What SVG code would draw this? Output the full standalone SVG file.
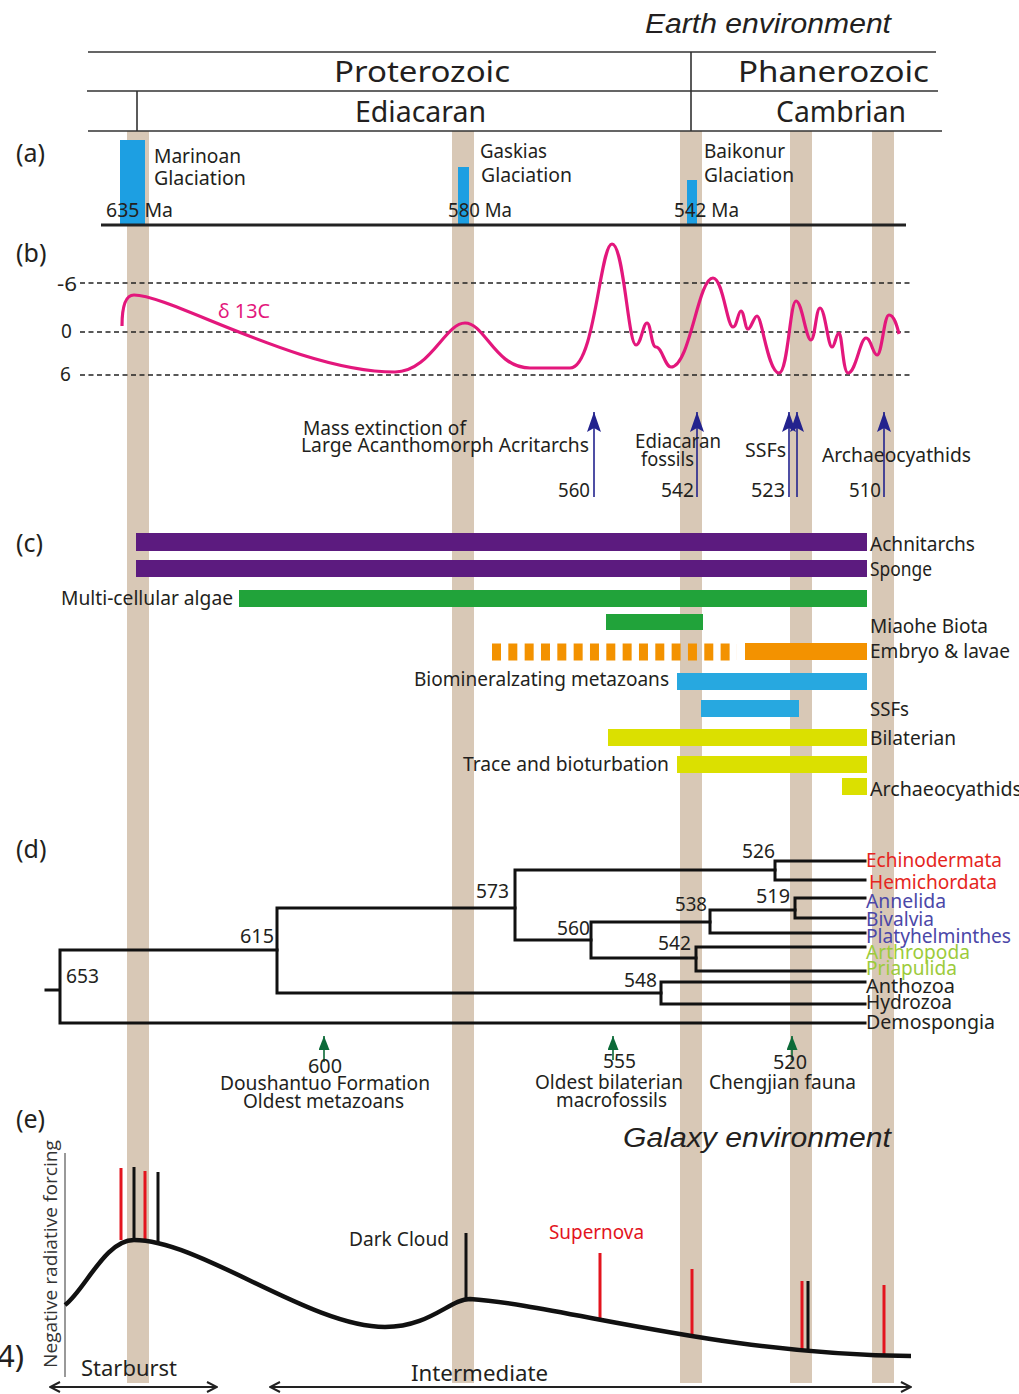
<svg xmlns="http://www.w3.org/2000/svg" width="1019" height="1394" viewBox="0 0 1019 1394">
<defs>
<style>
.t{font-family:"Noto Sans","Open Sans",sans-serif;font-size:19px;fill:#231f20}
.n{font-size:20px}
.hd{font-size:29px}
.lb{font-size:25px}
.it{font-family:"Liberation Sans",Arial,sans-serif;font-style:italic;font-size:27px;fill:#231f20}
.band{fill:#d8c8b6}
.hl{stroke:#333;stroke-width:1.6;fill:none}
.dash{stroke:#222;stroke-width:1.6;stroke-dasharray:5 3.5;fill:none}
.glac{fill:#1d9fe2}
.br{stroke:#111;stroke-width:3;fill:none;stroke-linecap:square}
.ba{stroke:#23238e;stroke-width:1.6;fill:none;marker-end:url(#ahB)}
.ga{stroke:#0c6a38;stroke-width:1.6;fill:none;marker-end:url(#ahG)}
.red{fill:#e52521}
.blu{fill:#4b47a8}
.grn{fill:#9ccb3b}
.sr{stroke:#e3141e;stroke-width:3;fill:none}
.sk{stroke:#111;stroke-width:3;fill:none}
.dbl{stroke:#222;stroke-width:2;fill:none;marker-start:url(#ahO);marker-end:url(#ahO)}
</style>
<marker id="ahB" viewBox="0 0 20 14" refX="20" refY="7" markerWidth="20" markerHeight="14" markerUnits="userSpaceOnUse" orient="auto"><path d="M0,0 L20,7 L0,14 L4,7 z" fill="#23238e"/></marker>
<marker id="ahG" viewBox="0 0 14 11" refX="14" refY="5.5" markerWidth="14" markerHeight="11" markerUnits="userSpaceOnUse" orient="auto"><path d="M0,0 L14,5.5 L0,11 z" fill="#0c6a38"/></marker>
<marker id="ahO" viewBox="0 0 12 12" refX="11" refY="6" markerWidth="12" markerHeight="12" markerUnits="userSpaceOnUse" orient="auto-start-reverse"><path d="M1,1 L11,6 L1,11" fill="none" stroke="#222" stroke-width="2"/></marker>
</defs>
<rect width="1019" height="1394" fill="#fff"/>

<g id="bands">
<rect class="band" x="127" y="131" width="22" height="1252"/>
<rect class="band" x="452" y="131" width="22" height="1252"/>
<rect class="band" x="680" y="131" width="22" height="1252"/>
<rect class="band" x="790" y="131" width="22" height="1252"/>
<rect class="band" x="872" y="131" width="22" height="1252"/>
</g>

<g id="header">
<text class="it" x="645" y="33" textLength="246" lengthAdjust="spacingAndGlyphs">Earth environment</text>
<path class="hl" d="M88,52 H936 M87,91 H938 M88,131 H942 M691,52 V131 M137,91 V131"/>
<text class="t hd" x="334" y="82" textLength="176" lengthAdjust="spacingAndGlyphs">Proterozoic</text>
<text class="t hd" x="738" y="82" textLength="191" lengthAdjust="spacingAndGlyphs">Phanerozoic</text>
<text class="t hd" x="355" y="122" textLength="131" lengthAdjust="spacingAndGlyphs">Ediacaran</text>
<text class="t hd" x="776" y="122" textLength="130" lengthAdjust="spacingAndGlyphs">Cambrian</text>
</g>

<g id="panel-a">
<text class="t lb" x="16" y="162">(a)</text>
<rect class="glac" x="120" y="140" width="25" height="85"/>
<rect class="glac" x="458" y="167" width="11" height="58"/>
<rect class="glac" x="687" y="180" width="10" height="45"/>
<g id="marinoan"><text class="t" x="154" y="163" textLength="87" lengthAdjust="spacingAndGlyphs">Marinoan</text><text class="t" x="154" y="185" textLength="92" lengthAdjust="spacingAndGlyphs">Glaciation</text><text class="t" x="106" y="217" textLength="67" lengthAdjust="spacingAndGlyphs">635 Ma</text></g>
<g id="gaskias"><text class="t" x="480" y="158" textLength="67" lengthAdjust="spacingAndGlyphs">Gaskias</text><text class="t" x="481" y="182" textLength="91" lengthAdjust="spacingAndGlyphs">Glaciation</text><text class="t" x="448" y="217" textLength="64" lengthAdjust="spacingAndGlyphs">580 Ma</text></g>
<g id="baikonur"><text class="t" x="704" y="158" textLength="81" lengthAdjust="spacingAndGlyphs">Baikonur</text><text class="t" x="704" y="182" textLength="90" lengthAdjust="spacingAndGlyphs">Glaciation</text><text class="t" x="674" y="217" textLength="65" lengthAdjust="spacingAndGlyphs">542 Ma</text></g>
<path d="M101,225 H906" stroke="#222" stroke-width="3"/>
</g>

<g id="panel-b">
<text class="t lb" x="16" y="262">(b)</text>
<path class="dash" d="M80,283 H912 M80,332 H912 M80,375 H912"/>
<text class="t" x="57" y="291" textLength="20" lengthAdjust="spacingAndGlyphs">-6</text>
<text class="t" x="61" y="338">0</text>
<text class="t" x="60" y="381">6</text>
<path d="M122,326 C122,305 126,295 134,295 C170,295 300,372 395,372 C430,372 445,323 465,323 C485,323 495,368 530,368 L570,368 C595,368 600,244 612,244 C624,244 628,345 636,345 C641,345 643,323 647,323 C651,323 651,347 656,347 C662,347 665,367 671,367 C690,367 698,278 713,278 C723,278 727,327 733,327 C737,327 738,311 741,311 C744,311 745,329 748,329 C751,329 754,316 757,316 C762,316 768,373 779,373 C788,373 790,301 796,301 C802,301 806,340 811,340 C815,340 816,308 820,308 C825,308 828,347 832,347 C835,347 836,333 839,333 C842,333 843,373 848,373 C856,373 860,338 866,338 C871,338 873,355 877,355 C882,355 884,315 889,315 C894,315 897,326 899,334" fill="none" stroke="#e3177c" stroke-width="3.2" stroke-linejoin="round"/>
<text class="t" x="218" y="318" fill="#e3177c" style="fill:#e3177c" textLength="52" lengthAdjust="spacingAndGlyphs">δ 13C</text>
</g>

<g id="events">
<path class="ba" d="M594,497 V412"/>
<path class="ba" d="M697,497 V412"/>
<path class="ba" d="M789,497 V412"/>
<path class="ba" d="M797,497 V412"/>
<path class="ba" d="M884,497 V412"/>
<g id="ev-560"><text class="t" x="303" y="435" textLength="163" lengthAdjust="spacingAndGlyphs">Mass extinction of</text><text class="t" x="301" y="452" textLength="288" lengthAdjust="spacingAndGlyphs">Large Acanthomorph Acritarchs</text><text class="t n" x="558" y="497" textLength="32" lengthAdjust="spacingAndGlyphs">560</text></g>
<g id="ev-542"><text class="t" x="635" y="448" textLength="86" lengthAdjust="spacingAndGlyphs">Ediacaran</text><text class="t" x="641" y="466" textLength="53" lengthAdjust="spacingAndGlyphs">fossils</text><text class="t n" x="661" y="497" textLength="33" lengthAdjust="spacingAndGlyphs">542</text></g>
<g id="ev-523"><text class="t" x="745" y="457" textLength="41" lengthAdjust="spacingAndGlyphs">SSFs</text><text class="t n" x="751" y="497" textLength="34" lengthAdjust="spacingAndGlyphs">523</text></g>
<g id="ev-510"><text class="t" x="822" y="462" textLength="149" lengthAdjust="spacingAndGlyphs">Archaeocyathids</text><text class="t n" x="849" y="497" textLength="32" lengthAdjust="spacingAndGlyphs">510</text></g>
</g>

<g id="panel-c">
<text class="t lb" x="16" y="552">(c)</text>
<g id="achnitarchs"><rect x="136" y="533" width="731" height="18" fill="#5c1b7f"/><text class="t" x="870" y="551" textLength="105" lengthAdjust="spacingAndGlyphs">Achnitarchs</text></g>
<g id="sponge"><rect x="136" y="560" width="731" height="17" fill="#5c1b7f"/><text class="t" x="870" y="576" textLength="62" lengthAdjust="spacingAndGlyphs">Sponge</text></g>
<g id="algae"><rect x="239" y="590" width="628" height="17" fill="#21a33a"/><text class="t" x="61" y="605" textLength="172" lengthAdjust="spacingAndGlyphs">Multi-cellular algae</text></g>
<g id="miaohe"><rect x="606" y="614" width="97" height="16" fill="#21a33a"/><text class="t" x="870" y="633" textLength="118" lengthAdjust="spacingAndGlyphs">Miaohe Biota</text></g>
<g id="embryo"><path d="M492,652 H737" stroke="#f39200" stroke-width="17" stroke-dasharray="9 7.33"/><rect x="745" y="643" width="122" height="17" fill="#f39200"/><text class="t" x="870" y="658" textLength="140" lengthAdjust="spacingAndGlyphs">Embryo &amp; lavae</text></g>
<g id="biomin"><rect x="677" y="673" width="190" height="17" fill="#27a8e0"/><text class="t" x="414" y="686" textLength="255" lengthAdjust="spacingAndGlyphs">Biomineralzating metazoans</text></g>
<g id="ssfs"><rect x="701" y="700" width="98" height="17" fill="#27a8e0"/><text class="t" x="870" y="716" textLength="39" lengthAdjust="spacingAndGlyphs">SSFs</text></g>
<g id="bilaterian"><rect x="608" y="729" width="259" height="17" fill="#dbe000"/><text class="t" x="870" y="745" textLength="86" lengthAdjust="spacingAndGlyphs">Bilaterian</text></g>
<g id="trace"><rect x="677" y="756" width="190" height="17" fill="#dbe000"/><text class="t" x="463" y="771" textLength="206" lengthAdjust="spacingAndGlyphs">Trace and bioturbation</text></g>
<g id="archaeo"><rect x="842" y="778" width="25" height="17" fill="#dbe000"/><text class="t" x="870" y="796" textLength="152" lengthAdjust="spacingAndGlyphs">Archaeocyathids</text></g>
</g>

<g id="panel-d">
<text class="t lb" x="16" y="858">(d)</text>
<g id="connectors">
<path class="br" d="M46,990 H60 M60,950 V1023 M60,950 H277 M60,1023 H865"/>
<path class="br" d="M277,908 V993 M277,908 H515 M277,993 H661"/>
<path class="br" d="M515,870 V940 M515,870 H775 M515,940 H591"/>
<path class="br" d="M775,861 V880 M775,861 H865 M775,880 H865"/>
<path class="br" d="M591,922 V958 M591,922 H710 M591,958 H696"/>
<path class="br" d="M710,910 V933 M710,910 H795 M710,933 H865"/>
<path class="br" d="M795,898 V918 M795,898 H865 M795,918 H865"/>
<path class="br" d="M696,947 V971 M696,947 H865 M696,971 H865"/>
<path class="br" d="M661,982 V1004 M661,982 H865 M661,1004 H865"/>
</g>
<g id="node-653"><text class="t n" x="66" y="983" textLength="33" lengthAdjust="spacingAndGlyphs">653</text></g>
<g id="node-615"><text class="t n" x="240" y="943" textLength="34" lengthAdjust="spacingAndGlyphs">615</text></g>
<g id="node-573"><text class="t n" x="476" y="898" textLength="33" lengthAdjust="spacingAndGlyphs">573</text></g>
<g id="node-526"><text class="t n" x="742" y="858" textLength="33" lengthAdjust="spacingAndGlyphs">526</text></g>
<g id="node-560"><text class="t n" x="557" y="935" textLength="33" lengthAdjust="spacingAndGlyphs">560</text></g>
<g id="node-538"><text class="t n" x="675" y="911" textLength="32" lengthAdjust="spacingAndGlyphs">538</text></g>
<g id="node-519"><text class="t n" x="756" y="903" textLength="34" lengthAdjust="spacingAndGlyphs">519</text></g>
<g id="node-542"><text class="t n" x="658" y="950" textLength="33" lengthAdjust="spacingAndGlyphs">542</text></g>
<g id="node-548"><text class="t n" x="624" y="987" textLength="33" lengthAdjust="spacingAndGlyphs">548</text></g>
<g id="taxon-echinodermata"><text class="t red" x="866" y="867" textLength="136" lengthAdjust="spacingAndGlyphs">Echinodermata</text></g>
<g id="taxon-hemichordata"><text class="t red" x="869" y="889" textLength="128" lengthAdjust="spacingAndGlyphs">Hemichordata</text></g>
<g id="taxon-annelida"><text class="t blu" x="866" y="908" textLength="80" lengthAdjust="spacingAndGlyphs">Annelida</text></g>
<g id="taxon-bivalvia"><text class="t blu" x="866" y="926" textLength="68" lengthAdjust="spacingAndGlyphs">Bivalvia</text></g>
<g id="taxon-platyhelminthes"><text class="t blu" x="866" y="943" textLength="145" lengthAdjust="spacingAndGlyphs">Platyhelminthes</text></g>
<g id="taxon-arthropoda"><text class="t grn" x="866" y="959" textLength="104" lengthAdjust="spacingAndGlyphs">Arthropoda</text></g>
<g id="taxon-priapulida"><text class="t grn" x="866" y="975" textLength="91" lengthAdjust="spacingAndGlyphs">Priapulida</text></g>
<g id="taxon-anthozoa"><text class="t" x="866" y="993" textLength="89" lengthAdjust="spacingAndGlyphs">Anthozoa</text></g>
<g id="taxon-hydrozoa"><text class="t" x="866" y="1009" textLength="86" lengthAdjust="spacingAndGlyphs">Hydrozoa</text></g>
<g id="taxon-demospongia"><text class="t" x="866" y="1029" textLength="129" lengthAdjust="spacingAndGlyphs">Demospongia</text></g>
</g>

<g id="fossil-events">
<path class="ga" d="M324,1062 V1036"/>
<path class="ga" d="M613,1060 V1036"/>
<path class="ga" d="M792,1060 V1036"/>
<g id="fe-600"><text class="t n" x="308" y="1073" textLength="34" lengthAdjust="spacingAndGlyphs">600</text><text class="t" x="220" y="1090" textLength="210" lengthAdjust="spacingAndGlyphs">Doushantuo Formation</text><text class="t" x="243" y="1108" textLength="161" lengthAdjust="spacingAndGlyphs">Oldest metazoans</text></g>
<g id="fe-555"><text class="t n" x="603" y="1068" textLength="33" lengthAdjust="spacingAndGlyphs">555</text><text class="t" x="535" y="1089" textLength="148" lengthAdjust="spacingAndGlyphs">Oldest bilaterian</text><text class="t" x="556" y="1107" textLength="111" lengthAdjust="spacingAndGlyphs">macrofossils</text></g>
<g id="fe-520"><text class="t n" x="773" y="1069" textLength="34" lengthAdjust="spacingAndGlyphs">520</text><text class="t" x="709" y="1089" textLength="147" lengthAdjust="spacingAndGlyphs">Chengjian fauna</text></g>
</g>

<g id="panel-e">
<text class="t lb" x="16" y="1128">(e)</text>
<text class="it" x="623" y="1147" textLength="268" lengthAdjust="spacingAndGlyphs">Galaxy environment</text>
<path d="M65,1153 V1377" stroke="#777" stroke-width="1.5"/>
<text x="57" y="1368" transform="rotate(-90 57 1368)" style="font-family:'Open Sans','Noto Sans',sans-serif;font-size:19px;fill:#333" textLength="228" lengthAdjust="spacingAndGlyphs">Negative radiative forcing</text>
<text class="t" x="-3" y="1367" style="font-size:31px">4)</text>
<path class="sr" d="M121,1168 V1240 M145,1171 V1240 M600,1253 V1320 M692,1269 V1338 M802,1281 V1352 M884,1285 V1356"/>
<path class="sk" d="M134,1167 V1240 M158,1172 V1245 M466,1233 V1300 M808,1281 V1352"/>
<path d="M65,1305 C85,1290 105,1240 134,1240 C200,1240 310,1327 385,1327 C430,1327 450,1299 470,1299 C560,1305 720,1355 911,1356" fill="none" stroke="#111" stroke-width="4.5"/>
<text class="t" x="349" y="1246" textLength="100" lengthAdjust="spacingAndGlyphs">Dark Cloud</text>
<text class="t" x="549" y="1239" style="fill:#e3141e" textLength="95" lengthAdjust="spacingAndGlyphs">Supernova</text>
<path class="dbl" d="M50,1387 H217"/>
<path class="dbl" d="M270,1387 H911"/>
<text class="t" x="81" y="1376" style="font-size:21px" textLength="96" lengthAdjust="spacingAndGlyphs">Starburst</text>
<text class="t" x="411" y="1381" style="font-size:21px" textLength="137" lengthAdjust="spacingAndGlyphs">Intermediate</text>
</g>
</svg>
